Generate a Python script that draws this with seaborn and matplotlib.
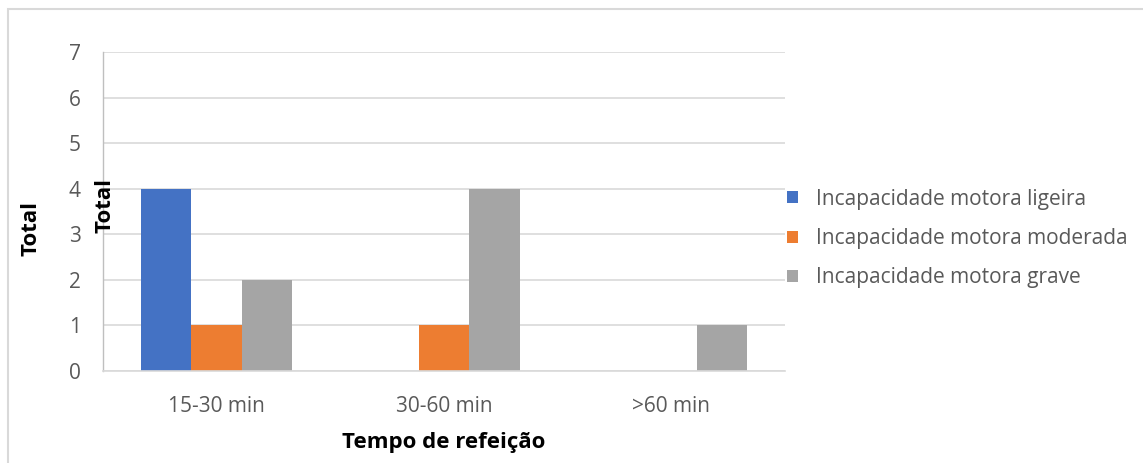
import matplotlib
matplotlib.use("Agg")
import matplotlib.pyplot as plt
import seaborn as sns
import pandas as pd
from matplotlib.patches import Rectangle

categories = ["15-30 min", "30-60 min", ">60 min"]
series_names = ["Incapacidade motora ligeira",
                "Incapacidade motora moderada",
                "Incapacidade motora grave"]
ligeira = [4, 0, 0]
moderada = [1, 1, 0]
grave = [2, 4, 1]
palette = ["#4472C4", "#ED7D31", "#A5A5A5"]

rows = []
for name, vals in zip(series_names, [ligeira, moderada, grave]):
    for cat, v in zip(categories, vals):
        rows.append({"Tempo": cat, "Serie": name, "Total": v})
df = pd.DataFrame(rows)

sns.set_theme(style="white")
plt.rcParams["font.family"] = ["Open Sans", "DejaVu Sans"]

fig = plt.figure(figsize=(11.43, 4.63), dpi=100)
ax = fig.add_axes([0.0901, 0.1987, 0.5967, 0.689])

sns.barplot(data=df, x="Tempo", y="Total", hue="Serie", order=categories,
            hue_order=series_names, palette=palette, width=0.665,
            saturation=1, linewidth=0, ax=ax, legend=True)

ax.set_ylim(0, 7)
ax.set_yticks(range(0, 8))
ax.yaxis.grid(True, color="#d9d9d9", linewidth=1.2)
ax.set_axisbelow(True)
for side in ["top", "right"]:
    ax.spines[side].set_visible(False)
ax.spines["left"].set_color("#bfbfbf")
ax.spines["bottom"].set_color("#d9d9d9")
ax.spines["left"].set_linewidth(1.0)
ax.spines["bottom"].set_linewidth(1.2)
ax.tick_params(axis="both", length=0, colors="#595959", labelsize=15)
ax.tick_params(axis="y", pad=16)
ax.tick_params(axis="x", pad=18)

ax.set_xlabel("Tempo de refeição", fontsize=16, fontweight="bold",
              color="black")
ax.xaxis.set_label_coords(0.5, -0.19)
ax.set_ylabel("Total", fontsize=16, fontweight="bold", color="black")
ax.yaxis.set_label_coords(-0.09, 0.448)
ax.text(0.0035, 0.52, "Total", transform=ax.transAxes, rotation=90,
        ha="center", va="center", fontsize=16, fontweight="bold",
        color="black")

leg = ax.legend(loc="center left", bbox_to_anchor=(1.0, 0.415), frameon=False,
                fontsize=15, handlelength=0.5, handleheight=0.5,
                handletextpad=0.9, labelspacing=0.88, borderaxespad=0.0,
                borderpad=0.1)
for t in leg.get_texts():
    t.set_color("#595959")

fig.patches.append(Rectangle((0.007, -0.1), 1.1, 1.08,
                             transform=fig.transFigure, fill=False,
                             edgecolor="#d9d9d9", linewidth=1.5))

fig.savefig("out.png", dpi=100)
